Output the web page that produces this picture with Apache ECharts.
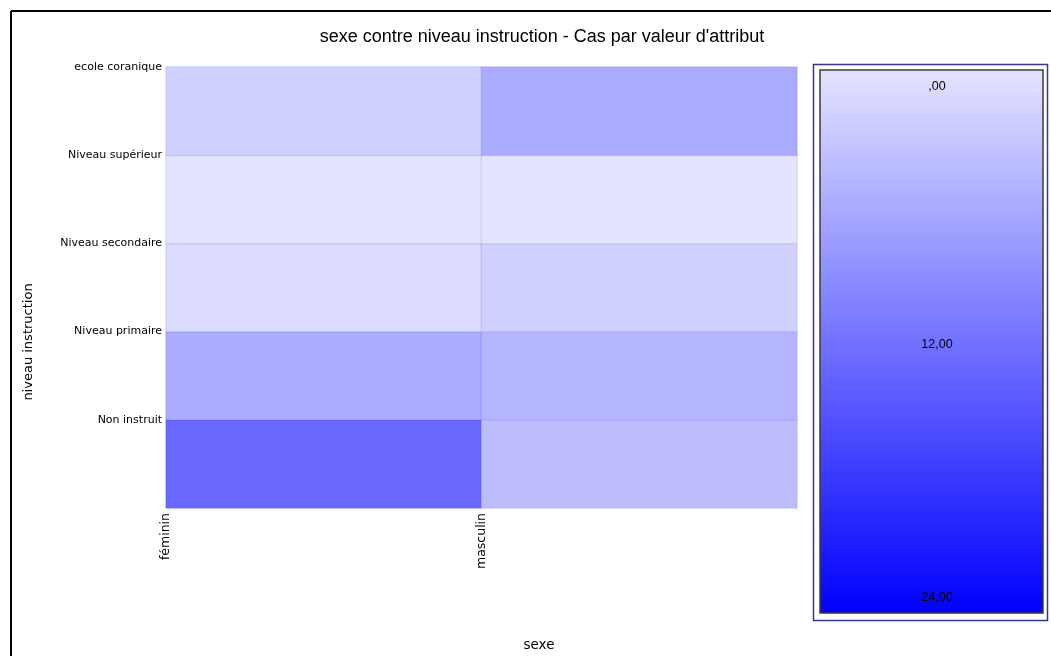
<!DOCTYPE html>
<html>
<head>
<meta charset="utf-8">
<script src="https://cdn.jsdelivr.net/npm/echarts@6/dist/echarts.min.js"></script>
<style>
html,body{margin:0;padding:0;background:#fff;}
#chart{width:1051px;height:656px;}
</style>
</head>
<body>
<div id="chart"></div>
<script>
// Categories
var xCats = ['féminin', 'masculin'];
var yCats = ['Non instruit', 'Niveau primaire', 'Niveau secondaire', 'Niveau supérieur', 'ecole coranique'];
// Counts per row (same order as yCats)
var femininValues = [13, 6, 1, 0, 2];
var masculinValues = [4, 5, 2, 0, 6];
// Colour scale range and legend tick labels
var scaleMin = 0;
var scaleMax = 24;
var legendTicks = [0, 12, 24];
var scaleColors = ['#E4E4FF', '#0000FF'];

var data = [];
for (var i = 0; i < yCats.length; i++) {
  data.push([0, i, femininValues[i]]);
  data.push([1, i, masculinValues[i]]);
}

function fmt(v) {
  var s = v.toFixed(2).replace('.', ',');
  if (s.indexOf('0,') === 0) s = s.substring(1);
  return s;
}

var chart = echarts.init(document.getElementById('chart'));

var gLeft = 166, gTop = 67, gRight = 1051 - 797, gBottom = 656 - 508;

// legend box geometry
var lgOuter = {x: 813.5, y: 64.5, w: 234, h: 556};
var lgInner = {x: 820, y: 70, w: 223, h: 543};

var graphics = [
  {type: 'line', shape: {x1: 11, y1: 11, x2: 1051, y2: 11}, style: {stroke: '#000', lineWidth: 2}},
  {type: 'line', shape: {x1: 11, y1: 11, x2: 11, y2: 656}, style: {stroke: '#000', lineWidth: 2}},
  {type: 'rect', shape: {x: lgOuter.x, y: lgOuter.y, width: lgOuter.w, height: lgOuter.h},
   style: {fill: '#fff', stroke: '#3535A5', lineWidth: 1.5}},
  {type: 'rect', shape: {x: lgInner.x, y: lgInner.y, width: lgInner.w, height: lgInner.h},
   style: {
     fill: new echarts.graphic.LinearGradient(0, 0, 0, 1, [
       {offset: 0, color: scaleColors[0]}, {offset: 1, color: scaleColors[1]}
     ]),
     stroke: '#3c3c3c', lineWidth: 1.5
   }},
  {type: 'text', x: 29, y: 342, rotation: Math.PI / 2,
   style: {text: 'niveau instruction', font: '13px "DejaVu Sans"', fill: '#000', align: 'center', verticalAlign: 'middle'}},
  {type: 'text', x: 539, y: 645,
   style: {text: 'sexe', font: '13.5px "DejaVu Sans"', fill: '#000', align: 'center', verticalAlign: 'middle'}}
];

var tickPos = [87, 345, 598];
legendTicks.forEach(function (t, k) {
  graphics.push({type: 'text', x: 937, y: tickPos[k],
    style: {text: fmt(t), font: '12.5px "Liberation Sans"', fill: '#000', align: 'center', verticalAlign: 'middle'}});
});

var option = {
  animation: false,
  backgroundColor: '#fff',
  title: {
    text: "sexe contre niveau instruction - Cas par valeur d'attribut",
    left: 537, top: 23, textAlign: 'center',
    textStyle: {fontFamily: 'Liberation Sans', fontSize: 18, fontWeight: 'normal', color: '#000'}
  },
  grid: {left: gLeft, top: gTop, right: gRight, bottom: gBottom},
  xAxis: [
    {type: 'category', data: xCats, show: false},
    {type: 'value', min: 0, max: xCats.length, interval: 1, position: 'bottom',
     axisLine: {show: false}, axisTick: {show: false}, splitLine: {show: false},
     axisLabel: {rotate: 90, margin: 5, fontFamily: 'DejaVu Sans', fontSize: 12.5, color: '#000',
       formatter: function (v) { return xCats[v] || ''; }}}
  ],
  yAxis: [
    {type: 'category', data: yCats, show: false},
    {type: 'value', min: 0, max: yCats.length, interval: 1, position: 'left',
     axisLine: {show: false}, axisTick: {show: false}, splitLine: {show: false},
     axisLabel: {margin: 4, fontFamily: 'DejaVu Sans', fontSize: 11, color: '#000',
       formatter: function (v) { return v > 0 ? (yCats[v - 1] || '') : ''; }}}
  ],
  visualMap: {
    show: false, type: 'continuous', min: scaleMin, max: scaleMax, dimension: 2,
    inRange: {color: scaleColors}
  },
  series: [{
    type: 'heatmap', xAxisIndex: 0, yAxisIndex: 0, data: data,
    itemStyle: {borderColor: 'rgba(40,40,255,0.10)', borderWidth: 1.5},
    emphasis: {disabled: true}
  }],
  graphic: graphics
};
chart.setOption(option);
</script>
</body>
</html>
